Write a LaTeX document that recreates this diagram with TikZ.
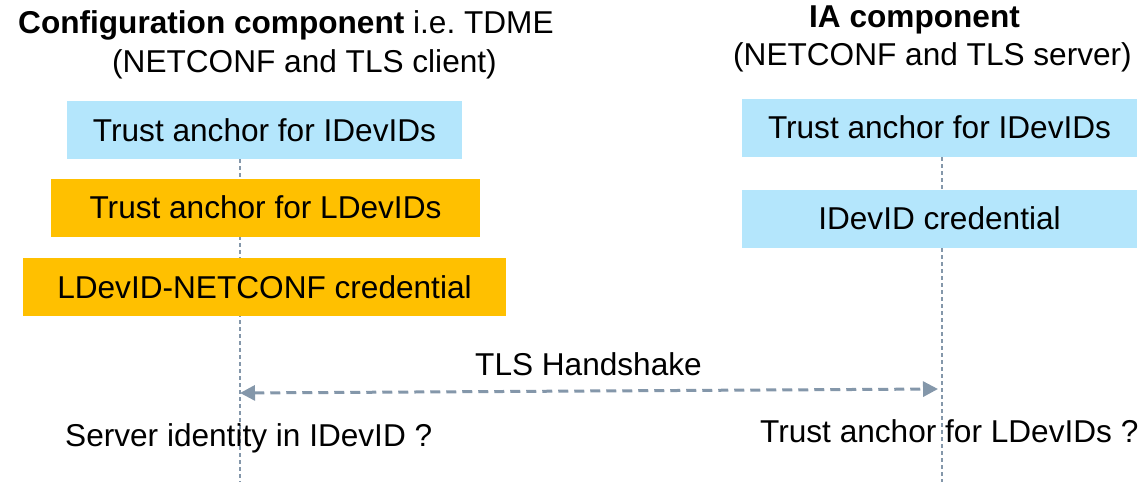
\documentclass[tikz,border=0pt]{standalone}
\usepackage{fontspec}
\setmainfont{Liberation Sans}
\usetikzlibrary{arrows.meta}
\definecolor{boxblue}{RGB}{180,230,252}
\definecolor{boxorange}{RGB}{255,192,0}
\definecolor{lineslate}{RGB}{132,151,170}
\tikzset{
  txt/.style={inner sep=0pt, font=\fontsize{31.6}{38}\selectfont},
  boxnode/.style={txt, minimum height=58pt, text height=22.6pt, text depth=0pt, align=center},
  bluebox/.style={boxnode, fill=boxblue},
  orangebox/.style={boxnode, fill=boxorange},
  lifeline/.style={draw=lineslate, line width=1.3pt, dash pattern=on 4pt off 3pt},
  msgline/.style={draw=lineslate, line width=3pt, dash pattern=on 10pt off 6pt,
    {Triangle[length=15pt,width=15pt]}-{Triangle[length=15pt,width=15pt]}}
}
\begin{document}
\begin{tikzpicture}[x=1pt,y=-1pt]
\useasboundingbox (0,0) rectangle (1145,482);
% lifelines
\coordinate (ltop) at (240,159);
\coordinate (lbot) at (240,482);
\coordinate (rtop) at (942,157);
\coordinate (rbot) at (942,482);
\draw[lifeline] (ltop) -- (lbot);
\draw[lifeline] (rtop) -- (rbot);
% titles
\node[txt, anchor=base west] (t1a) at (18,33) {\textbf{Configuration component} i.e.\ TDME};
\node[txt, anchor=base west] (t1b) at (112,72) {(NETCONF and TLS client)};
\node[txt, anchor=base west] (t2a) at (809,27) {\textbf{IA component}};
\node[txt, anchor=base west] (t2b) at (733,65) {(NETCONF and TLS server)};
% left boxes
\node[bluebox, minimum width=395pt] (lA) at (264.5,130) {Trust anchor for IDevIDs};
\node[orangebox, minimum width=429pt] (lB) at (265.5,207.5) {Trust anchor for LDevIDs};
\node[orangebox, minimum width=483pt] (lC) at (264.5,287) {LDevID-NETCONF credential};
% right boxes
\node[bluebox, minimum width=395pt] (rA) at (939.5,127.5) {Trust anchor for IDevIDs};
\node[bluebox, minimum width=395pt] (rB) at (939.5,218.5) {IDevID credential};
% message
\coordinate (aL) at (240,393);
\coordinate (aR) at (938,389);
\draw[msgline] (aL) -- (aR);
\node[txt, anchor=base west] (tls) at (475,375) {TLS Handshake};
% bottom notes
\node[txt, anchor=base west] (q1) at (65,446) {Server identity in IDevID ?};
\node[txt, anchor=base west] (q2) at (760,442) {Trust anchor for LDevIDs ?};
\end{tikzpicture}
\end{document}
